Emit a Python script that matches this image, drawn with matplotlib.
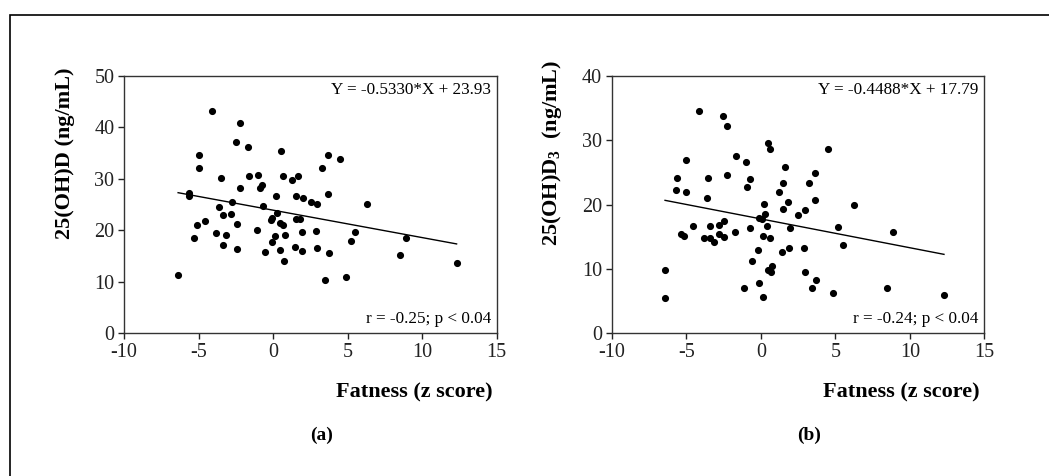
import matplotlib.pyplot as plt
from matplotlib.patches import Rectangle
import numpy as np

plt.rcParams['font.family'] = ['Liberation Serif', 'DejaVu Serif']
plt.rcParams['mathtext.default'] = 'regular'
plt.rcParams['axes.unicode_minus'] = False

# panel (a): total 25(OH)D vs fatness z score
fat_a = [-4.09, -2.25, -2.52, -1.67, -4.98, -4.98, -3.51, -2.25, -1.62, -1.00,
         -0.73, -0.86, -0.68, 0.50, 0.66, 0.21, 1.24, 1.69, 1.51, 2.00,
         2.52, 2.97, 3.26, 3.66, 4.51, 3.66, 6.31, -5.61, -5.61, -6.37,
         -5.12, -5.32, -4.54, -3.82, -3.60, -3.39, -3.37, -3.15, -2.79, -2.77,
         -2.43, -2.41, -1.09, -0.57, -0.17, -0.10, -0.08, 0.15, 0.28, 0.44,
         0.64, 0.48, 0.73, 0.80, 1.45, 1.51, 1.78, 1.92, 1.92, 2.90,
         2.97, 3.75, 3.51, 4.87, 5.21, 5.50, 8.50, 8.91, 12.31]
vitd_a = [43.2, 40.9, 37.2, 36.3, 34.7, 32.1, 30.2, 28.3, 30.6, 30.7,
          28.8, 28.3, 24.8, 35.5, 30.5, 26.7, 29.7, 30.6, 26.7, 26.2,
          25.6, 25.1, 32.2, 34.6, 33.8, 27.1, 25.1, 27.3, 26.6, 11.3,
          21.0, 18.5, 21.9, 19.4, 24.5, 23.0, 17.2, 19.2, 23.1, 25.6,
          21.2, 16.4, 20.1, 15.8, 22.0, 22.5, 17.8, 19.0, 23.3, 21.4,
          21.0, 16.2, 14.1, 19.1, 16.7, 22.3, 22.2, 19.6, 15.9, 19.9,
          16.5, 15.6, 10.3, 10.9, 17.9, 19.6, 15.2, 18.6, 13.6]

# panel (b): 25(OH)D3 vs fatness z score
fat_b = [-4.14, -2.52, -2.26, -5.01, -5.59, -5.66, -5.01, -3.53, -3.60, -2.28,
         -1.63, -1.00, -0.71, -0.89, 0.50, 0.65, 1.64, 1.50, 1.21, 1.48,
         1.80, 3.23, 3.66, 3.66, 4.51, 6.27, 2.94, 2.49, 0.21, 0.29,
         -0.09, 0.05, 0.45, 0.14, 0.65, -0.69, -1.72, -4.56, -5.37, -5.12,
         -3.82, -3.42, -3.15, -3.42, -2.82, -2.77, -2.46, -2.44, 1.93, 1.88,
         1.41, 2.87, 5.17, 5.49, 8.87, -0.20, -0.60, 0.77, 0.47, 0.67,
         2.94, 3.72, 3.47, 4.84, -0.09, -1.14, 0.12, 8.47, 12.29, -6.42,
         -6.42]
vitd_b = [34.6, 33.8, 32.3, 26.9, 24.2, 22.3, 21.9, 24.2, 21.1, 24.6,
          27.5, 26.6, 24.0, 22.8, 29.6, 28.7, 25.8, 23.3, 22.0, 19.3,
          20.4, 23.4, 24.9, 20.8, 28.6, 20.0, 19.2, 18.4, 20.1, 18.6,
          18.0, 17.8, 16.7, 15.2, 14.8, 16.3, 15.8, 16.7, 15.5, 15.2,
          14.8, 14.8, 14.2, 16.7, 16.8, 15.4, 17.4, 15.0, 16.3, 13.3,
          12.6, 13.2, 16.5, 13.8, 15.8, 12.9, 11.3, 10.5, 9.8, 9.5,
          9.5, 8.3, 7.0, 6.2, 7.8, 7.0, 5.6, 7.0, 6.0, 9.9,
          5.5]

fit_a = (-0.5330, 23.93)
fit_b = (-0.4488, 17.79)

fig = plt.figure(figsize=(10.49, 4.76), dpi=100)

# frame around the figure (only top and left edges are visible)
fig.patches.append(Rectangle((10 / 1049, -0.1), 1.2, 1.1 - 15 / 476,
                             transform=fig.transFigure, fill=False,
                             edgecolor='black', linewidth=1.2))

panels = [
    (0.1182, fat_a, vitd_a, fit_a, 50, '25(OH)D (ng/mL)',
     'Y = -0.5330*X + 23.93', 'r = -0.25; p < 0.04', '(a)', 65),
    (0.5831, fat_b, vitd_b, fit_b, 40, '25(OH)D$_3$  (ng/mL)',
     'Y = -0.4488*X + 17.79', 'r = -0.24; p < 0.04', '(b)', 552),
]

for left, x, y, fit, ymax, ylab, eq, stat, tag, ylab_x in panels:
    ax = fig.add_axes([left, 0.2998, 0.3553, 0.5405])
    ax.scatter(x, y, s=17, color='black', zorder=3)

    xs = np.array([min(x), max(x)])
    ax.plot(xs, fit[0] * xs + fit[1], color='black', linewidth=1.0)

    ax.set_xlim(-10, 15)
    ax.set_ylim(0, ymax)
    ax.set_xticks([-10, -5, 0, 5, 10, 15])
    ax.set_yticks(np.arange(0, ymax + 1, 10))
    ax.tick_params(direction='out', length=4, width=1, labelsize=14.5,
                   colors='#222222', pad=3)
    for sp in ax.spines.values():
        sp.set_linewidth(1.0)
        sp.set_color('#333333')

    ax.text(0.985, 0.975, eq, transform=ax.transAxes, ha='right', va='top',
            fontsize=12.3)
    ax.text(0.985, 0.025, stat, transform=ax.transAxes, ha='right',
            va='bottom', fontsize=12.3)

    ax.set_xlabel('Fatness (z score)', fontsize=16, fontweight='bold')
    ax.xaxis.set_label_coords(0.988, -0.19)
    ax.xaxis.label.set_ha('right')

    fig.text(ylab_x / 1049, (476 - 153) / 476, ylab, rotation=90,
             ha='center', va='center', fontsize=16, fontweight='bold')
    fig.text((left + 0.3553 * 0.53), (476 - 435) / 476, tag,
             ha='center', va='center', fontsize=14, fontweight='bold')

plt.savefig('out.png', dpi=100)
